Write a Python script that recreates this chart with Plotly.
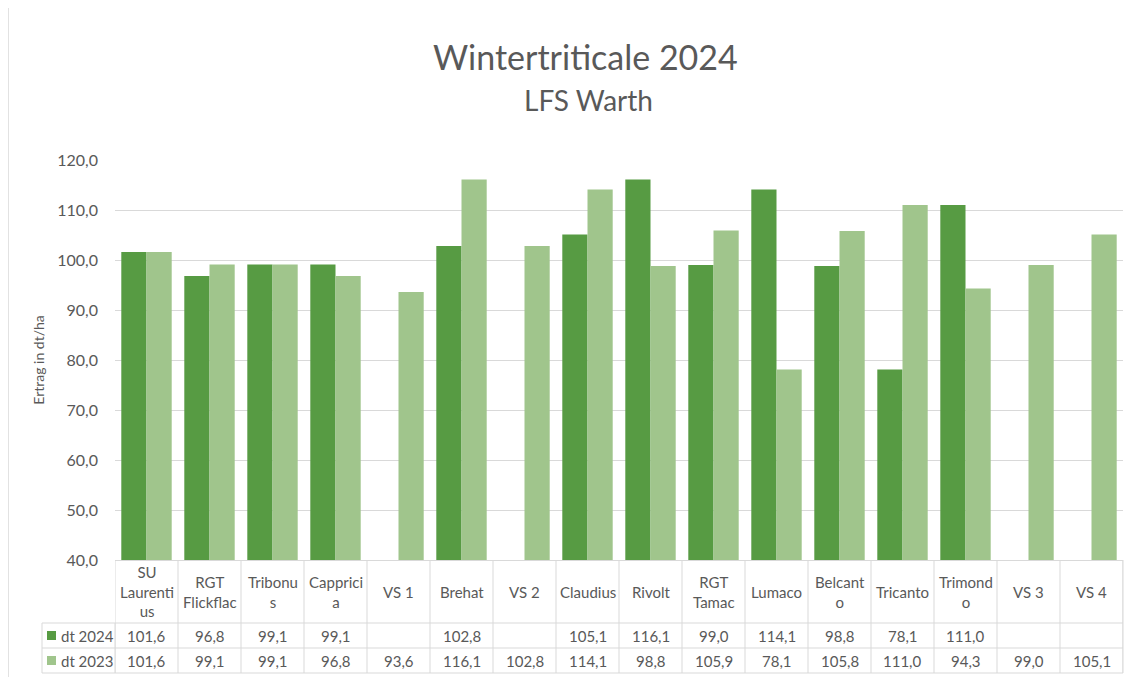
import plotly.graph_objects as go

# ---------------- data ----------------
categories = ["SU Laurentius", "RGT Flickflac", "Tribonus", "Cappricia", "VS 1", "Brehat",
              "VS 2", "Claudius", "Rivolt", "RGT Tamac", "Lumaco", "Belcanto", "Tricanto",
              "Trimondo", "VS 3", "VS 4"]
header_labels = ["SU<br>Laurenti<br>us", "RGT<br>Flickflac", "Tribonu<br>s", "Capprici<br>a",
                 "VS 1", "Brehat", "VS 2", "Claudius", "Rivolt", "RGT<br>Tamac", "Lumaco",
                 "Belcant<br>o", "Tricanto", "Trimond<br>o", "VS 3", "VS 4"]
dt2024 = [101.6, 96.8, 99.1, 99.1, None, 102.8, None, 105.1, 116.1, 99.0, 114.1, 98.8, 78.1,
          111.0, None, None]
dt2023 = [101.6, 99.1, 99.1, 96.8, 93.6, 116.1, 102.8, 114.1, 98.8, 105.9, 78.1, 105.8, 111.0,
          94.3, 99.0, 105.1]
series_names = ["dt 2024", "dt 2023"]
y_ticks = [40, 50, 60, 70, 80, 90, 100, 110, 120]

# ---------------- style ----------------
OFF = 8  # page body margin
W, H = 1133 - OFF, 677 - OFF
PL, PR, PT, PB = 115, 1123, 160, 560   # plot area in page pixels
ML, MR, MT = PL - OFF, W - (PR - OFF), PT - OFF
MB = H - (PB - OFF)
PW, PH = PR - PL, PB - PT
C_DARK = "#579B43"
C_LIGHT = "#A0C58C"
TXT = "#595959"
GRID = "#D9D9D9"
FONT = "Lato"
TFS = 15

def px2x(px):
    return (px - PL) / PW

def py2y(py):
    return (PB - py) / PH

idx = list(range(len(categories)))

fig = go.Figure()
fig.add_bar(x=idx, y=dt2024, name=series_names[0], marker=dict(color=C_DARK, line_width=0),
            hovertext=categories)
fig.add_bar(x=idx, y=dt2023, name=series_names[1], marker=dict(color=C_LIGHT, line_width=0),
            hovertext=categories)

fmt = lambda v: "" if v is None else f"{v:.1f}".replace(".", ",")

shapes = []
annotations = []

# table row geometry (page pixels)
hdr_top, hdr_bot, r1_bot, r2_bot = 560, 623, 648, 673
leg_left = 42

for i in range(len(categories) + 1):
    shapes.append(dict(type="line", xref="x", yref="paper", x0=i - 0.5, x1=i - 0.5,
                       y0=py2y(hdr_top), y1=py2y(r2_bot), line=dict(color=GRID, width=1),
                       layer="above"))
for xx in (px2x(leg_left), 0):
    shapes.append(dict(type="line", xref="paper", yref="paper", x0=xx, x1=xx,
                       y0=py2y(hdr_bot), y1=py2y(r2_bot), line=dict(color=GRID, width=1)))
shapes.append(dict(type="line", xref="paper", yref="paper", x0=1, x1=1,
                   y0=py2y(hdr_top), y1=py2y(r2_bot), line=dict(color=GRID, width=1)))
for py in (hdr_bot, r1_bot, r2_bot):
    shapes.append(dict(type="line", xref="paper", yref="paper", x0=px2x(leg_left), x1=1,
                       y0=py2y(py), y1=py2y(py), line=dict(color=GRID, width=1)))
# chart border
shapes.append(dict(type="rect", xref="paper", yref="paper", x0=px2x(8), x1=px2x(1200),
                   y0=py2y(760), y1=py2y(4), line=dict(color=GRID, width=1.5)))

for i, lab in enumerate(header_labels):
    annotations.append(dict(x=i, xref="x", y=py2y((hdr_top + hdr_bot) / 2), yref="paper",
                            text=lab, showarrow=False, yanchor="middle", xanchor="center",
                            font=dict(size=TFS, color=TXT, family=FONT)))
    annotations.append(dict(x=i, xref="x", y=py2y((hdr_bot + r1_bot) / 2), yref="paper",
                            text=fmt(dt2024[i]), showarrow=False, yanchor="middle",
                            font=dict(size=TFS, color=TXT, family=FONT)))
    annotations.append(dict(x=i, xref="x", y=py2y((r1_bot + r2_bot) / 2), yref="paper",
                            text=fmt(dt2023[i]), showarrow=False, yanchor="middle",
                            font=dict(size=TFS, color=TXT, family=FONT)))

# legend keys inside the data table
for name, col, (a, b) in ((series_names[0], C_DARK, (hdr_bot, r1_bot)),
                          (series_names[1], C_LIGHT, (r1_bot, r2_bot))):
    cy = (a + b) / 2
    shapes.append(dict(type="rect", xref="paper", yref="paper",
                       x0=px2x(47), x1=px2x(56), y0=py2y(cy + 4.5), y1=py2y(cy - 4.5),
                       fillcolor=col, line=dict(width=0)))
    annotations.append(dict(x=px2x(59), xref="paper", y=py2y(cy), yref="paper",
                            text=name, showarrow=False, xanchor="left", yanchor="middle",
                            font=dict(size=TFS, color=TXT, family=FONT)))

annotations.append(dict(x=px2x(585), xref="paper", y=py2y(57), yref="paper",
                        text="Wintertriticale 2024", showarrow=False, yanchor="middle",
                        font=dict(size=34, color=TXT, family=FONT)))
annotations.append(dict(x=px2x(588), xref="paper", y=py2y(100), yref="paper",
                        text="LFS Warth", showarrow=False, yanchor="middle",
                        font=dict(size=28, color=TXT, family=FONT)))

fig.update_layout(
    width=W, height=H,
    margin=dict(l=ML, r=MR, t=MT, b=MB, autoexpand=False),
    paper_bgcolor="white", plot_bgcolor="white",
    barmode="group", bargap=0.2, bargroupgap=0,
    showlegend=False,
    separators=",.",
    font=dict(family=FONT, color=TXT, size=14),
    shapes=shapes, annotations=annotations,
    xaxis=dict(range=[-0.5, len(categories) - 0.5], showticklabels=False, showgrid=False,
               zeroline=False, showline=True, linecolor=GRID, linewidth=1, ticks=""),
    yaxis=dict(range=[40, 120], tickvals=y_ticks, tickformat=".1f", showgrid=True,
               gridcolor=GRID, gridwidth=1, zeroline=False, showline=False,
               tickfont=dict(size=16, color=TXT, family=FONT), ticks="", ticklen=0,
               ticklabelstandoff=16,
               title=dict(text="Ertrag in dt/ha", font=dict(size=14, color=TXT, family=FONT),
                          standoff=9)),
)

fig.write_html("out.html")
